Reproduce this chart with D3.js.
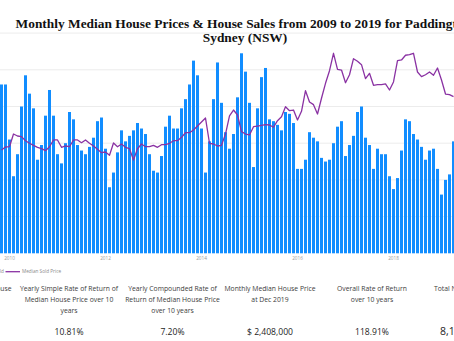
<!DOCTYPE html>
<html lang="en">
<head>
<meta charset="utf-8">
<title>Paddington house prices and sales</title>
<script src="https://cdn.jsdelivr.net/npm/d3@7"></script>
<style>
  body { margin: 0; background: #fff; }
  svg { display: block; }
</style>
</head>
<body>
<script>
// monthly sales count, Nov 2009 .. Apr 2019 (what is visible in the shot)
var houseSales = [92,92,62,42,54,80,97,87,79,51,
  59,75,89,75,54,49,60,77,73,59,
  56,54,58,63,72,74,57,36,44,55,
  67,61,64,67,71,68,65,54,45,44,
  53,69,75,68,68,79,84,92,105,97,
  68,44,61,84,104,82,66,57,65,85,
  109,99,82,47,79,96,101,73,72,70,
  67,77,76,71,46,46,51,66,63,61,
  52,50,51,60,69,72,53,59,64,77,
  80,63,59,46,57,54,54,42,35,41,
  56,73,72,65,62,58,51,56,57,46,
  32,40,43,61];

// median sold price in $K, same months
var medianPrice = [1407,1448,1452,1625,1598,1589,1534,1499,1471,1444,
  1425,1398,1452,1544,1544,1444,1462,1452,1544,1544,
  1507,1544,1499,1462,1417,1371,1380,1335,1503,1452,
  1489,1444,1425,1271,1425,1489,1452,1452,1471,1444,
  1480,1480,1499,1534,1534,1580,1643,1643,1680,1734,
  1789,1843,1499,1489,1462,1471,1625,1871,1952,1884,
  1657,1625,1612,1725,1734,1744,1752,1748,1717,1807,
  1861,1997,1943,1952,1816,1935,2215,2061,2025,1898,
  2112,2316,2488,2725,2507,2497,2324,2433,2651,2616,
  2570,2379,2452,2289,2297,2297,2307,2225,2334,2624,
  2634,2698,2706,2725,2470,2406,2433,2470,2425,2525,
  2361,2170,2161,2134];

var yearTicks = ["2010", "2012", "2014", "2016", "2018"];
var salesGrid = [20, 40, 60, 80, 100, 120];

var statLabels = [
  ["Average Monthly Median House", "Price"],
  ["Yearly Simple Rate of Return of", "Median House Price over 10", "years"],
  ["Yearly Compounded Rate of", "Return of Median House Price", "over 10 years"],
  ["Monthly Median House Price", "at Dec 2019"],
  ["Overall Rate of Return", "over 10 years"],
  ["Total Number of Houses Sold"]
];
var statValues = ["$ 1,908,000", "10.81%", "7.20%", "$ 2,408,000", "118.91%", "8,130"];

var W = 454, H = 341;
var fmt = d3.timeFormat("%Y-%m");
var months = d3.timeMonth.range(new Date(2009, 10, 1), new Date(2019, 4, 1)).map(fmt);

var svg = d3.select("body").append("svg")
  .attr("width", W)
  .attr("height", H);

var x = d3.scaleBand()
  .domain(months)
  .range([-0.5, 455.5])
  .paddingInner(0.25)
  .paddingOuter(0.125);

var ySales = d3.scaleLinear().domain([0, 120]).range([253.3, 33.1]);
var yPrice = d3.scaleLinear().domain([0, 3000]).range([253.3, 33.1]);

// gridlines
svg.append("g").selectAll("line")
  .data(salesGrid)
  .enter().append("line")
  .attr("x1", 0).attr("x2", W)
  .attr("y1", function(d) { return ySales(d); })
  .attr("y2", function(d) { return ySales(d); })
  .attr("stroke", "#ececec")
  .attr("stroke-width", 1);

// bars
svg.append("g").selectAll("rect")
  .data(houseSales)
  .enter().append("rect")
  .attr("x", function(d, i) { return x(months[i]); })
  .attr("width", x.bandwidth())
  .attr("y", function(d) { return ySales(d); })
  .attr("height", function(d) { return ySales(0) - ySales(d); })
  .attr("fill", "#118DFF");

// price line
var line = d3.line()
  .x(function(d, i) { return x(months[i]) + x.bandwidth() / 2; })
  .y(function(d) { return yPrice(d); });

svg.append("path")
  .datum(medianPrice)
  .attr("d", line)
  .attr("fill", "none")
  .attr("stroke", "#8a32a3")
  .attr("stroke-width", 1.3)
  .attr("stroke-linejoin", "round");

// x axis (no domain line, no ticks)
var xAxis = svg.append("g")
  .attr("transform", "translate(0," + ySales(0) + ")")
  .call(d3.axisBottom(x)
    .tickValues(yearTicks.map(function(y) { return y + "-01"; }))
    .tickFormat(function(d) { return d.slice(0, 4); })
    .tickSize(0)
    .tickPadding(3.5));
xAxis.select(".domain").remove();
xAxis.selectAll("text")
  .attr("font-family", "'Segoe UI', 'Open Sans', sans-serif")
  .attr("font-size", 4.7)
  .attr("fill", "#9a9a9a");

// legend
var legend = svg.append("g")
  .attr("font-family", "'Segoe UI', 'Open Sans', sans-serif")
  .attr("font-size", 4.7)
  .attr("fill", "#8a8a8a");
legend.append("text")
  .attr("x", 3.8).attr("y", 273.4)
  .attr("text-anchor", "end")
  .text("Houses Sold");
legend.append("line")
  .attr("x1", 5.5).attr("x2", 20)
  .attr("y1", 271.7).attr("y2", 271.7)
  .attr("stroke", "#8a32a3")
  .attr("stroke-width", 1.3);
legend.append("text")
  .attr("x", 22).attr("y", 273.4)
  .text("Median Sold Price");

// title
var title = svg.append("g")
  .attr("font-family", "'Liberation Serif', 'DejaVu Serif', serif")
  .attr("font-weight", "bold")
  .attr("font-size", 13.4)
  .attr("fill", "#111")
  .attr("text-anchor", "middle");
title.append("text").attr("x", 245).attr("y", 27.5)
  .text("Monthly Median House Prices & House Sales from 2009 to 2019 for Paddington,");
title.append("text").attr("x", 245).attr("y", 42)
  .text("Sydney (NSW)");

// stat cards
var cardX = [-39, 69, 172.5, 270, 372, 474];
var cards = svg.append("g")
  .attr("font-family", "'Segoe UI', 'Open Sans', sans-serif");

statLabels.forEach(function(lines, c) {
  var last = c === statLabels.length - 1;
  var g = cards.append("g");
  lines.forEach(function(t, k) {
    g.append("text")
      .attr("x", last ? 434 : cardX[c])
      .attr("y", 291.2 + k * 11)
      .attr("text-anchor", last ? "start" : "middle")
      .attr("font-size", 6.8)
      .attr("fill", "#3c3c3c")
      .text(t);
  });
  g.append("text")
    .attr("x", last ? 440 : cardX[c])
    .attr("y", 334.6)
    .attr("text-anchor", last ? "start" : "middle")
    .attr("font-size", last ? 10.5 : 8.6)
    .attr("fill", "#252525")
    .text(statValues[c]);
});
</script>
</body>
</html>
